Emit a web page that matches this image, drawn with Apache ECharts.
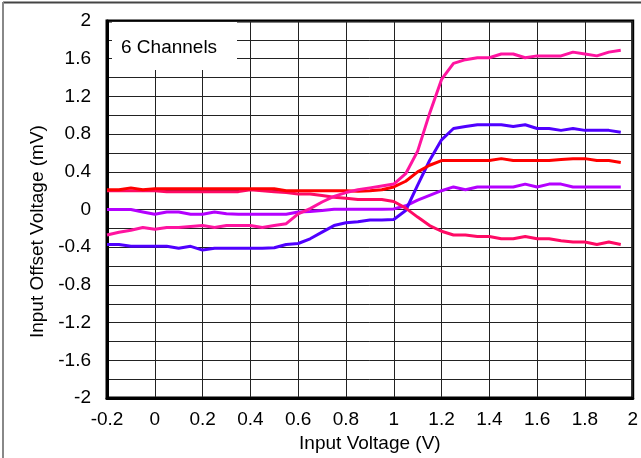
<!DOCTYPE html>
<html><head><meta charset="utf-8">
<script src="https://cdn.jsdelivr.net/npm/echarts@6/dist/echarts.min.js"></script>
<style>html,body{margin:0;padding:0;background:#fff}#c{width:641px;height:458px}</style>
</head><body><div id="c"></div>
<script>
const xValues = [-0.2,-0.15,-0.1,-0.05,0,0.05,0.1,0.15,0.2,0.25,0.3,0.35,0.4,0.45,0.5,0.55,0.6,0.65,0.7,0.75,0.8,0.85,0.9,0.95,1.0,1.05,1.1,1.15,1.2,1.25,1.3,1.35,1.4,1.45,1.5,1.55,1.6,1.65,1.7,1.75,1.8,1.85,1.9,1.95];
const pinkCh = [-0.27,-0.24,-0.22,-0.19,-0.21,-0.19,-0.19,-0.18,-0.17,-0.19,-0.17,-0.17,-0.17,-0.19,-0.17,-0.15,-0.045,0.01,0.08,0.14,0.18,0.21,0.23,0.25,0.27,0.38,0.62,1.02,1.38,1.55,1.59,1.61,1.61,1.65,1.65,1.61,1.63,1.63,1.63,1.67,1.65,1.63,1.67,1.69];
const blueCh = [-0.37,-0.37,-0.39,-0.39,-0.39,-0.39,-0.41,-0.39,-0.43,-0.41,-0.41,-0.41,-0.41,-0.41,-0.405,-0.37,-0.36,-0.31,-0.24,-0.17,-0.14,-0.13,-0.11,-0.11,-0.105,-0.01,0.26,0.52,0.74,0.86,0.88,0.90,0.90,0.90,0.88,0.90,0.86,0.86,0.84,0.86,0.84,0.84,0.84,0.82];
const purpleCh = [0,0,0,-0.025,-0.05,-0.027,-0.027,-0.05,-0.05,-0.027,-0.045,-0.05,-0.05,-0.05,-0.05,-0.05,-0.027,-0.02,-0.01,0.004,0.004,0.004,0.004,0.004,0.007,0.04,0.10,0.15,0.20,0.24,0.21,0.24,0.24,0.24,0.24,0.27,0.24,0.27,0.27,0.24,0.24,0.24,0.24,0.24];
const redCh = [0.21,0.21,0.23,0.21,0.22,0.22,0.22,0.22,0.22,0.22,0.22,0.22,0.22,0.22,0.22,0.2,0.2,0.2,0.2,0.2,0.2,0.195,0.2,0.21,0.24,0.30,0.40,0.47,0.52,0.52,0.52,0.52,0.52,0.54,0.52,0.52,0.52,0.52,0.53,0.54,0.54,0.52,0.52,0.50];
const crimsonCh = [0.2,0.2,0.2,0.2,0.2,0.19,0.19,0.19,0.19,0.19,0.19,0.19,0.21,0.2,0.19,0.18,0.166,0.166,0.15,0.13,0.12,0.106,0.106,0.106,0.085,0.015,-0.08,-0.17,-0.23,-0.27,-0.27,-0.285,-0.285,-0.31,-0.31,-0.285,-0.31,-0.31,-0.33,-0.345,-0.345,-0.37,-0.345,-0.37];
const seriesDefs = [
  {name:'Ch1', values: purpleCh, color:'#b400ff'},
  {name:'Ch2', values: blueCh, color:'#5000ff'},
  {name:'Ch3', values: crimsonCh, color:'#ff0a64'},
  {name:'Ch4', values: redCh, color:'#ff0000'},
  {name:'Ch5', values: pinkCh, color:'#ff14a0'}
];
const xTitle = 'Input Voltage (V)';
const yTitle = 'Input Offset Voltage (mV)';
const noteText = '6 Channels';

const FONT = '"Liberation Sans", Arial, sans-serif';
const chart = echarts.init(document.getElementById('c'), null, {renderer:'canvas'});
chart.setOption({
  animation:false,
  backgroundColor:'#fff',
  grid:{left:107, right:6, top:21, bottom:59, show:true, borderColor:'#000', borderWidth:3, backgroundColor:'transparent'},
  xAxis:{
    type:'value', min:-0.2, max:2, interval:0.2,
    name:xTitle, nameLocation:'middle', nameGap:33,
    nameTextStyle:{fontFamily:FONT, fontSize:19, color:'#000'},
    axisLine:{show:true, onZero:false, lineStyle:{color:'#000', width:3}},
    axisTick:{show:false},
    axisLabel:{fontFamily:FONT, fontSize:19, color:'#000', margin:12, showMinLabel:true, showMaxLabel:true},
    splitLine:{show:true, lineStyle:{color:'#222', width:1}}
  },
  yAxis:{
    type:'value', min:-2, max:2, interval:0.4,
    name:yTitle, nameLocation:'middle', nameGap:56,
    nameTextStyle:{fontFamily:FONT, fontSize:19, color:'#000', padding:[0,44,0,0]},
    axisLine:{show:true, onZero:false, lineStyle:{color:'#000', width:3}},
    axisTick:{show:false},
    axisLabel:{fontFamily:FONT, fontSize:19, color:'#000', margin:16},
    splitLine:{show:true, lineStyle:{color:'#222', width:1}},
    minorTick:{show:false, splitNumber:2},
    minorSplitLine:{show:true, lineStyle:{color:'#222', width:1}}
  },
  series: seriesDefs.map(s => ({
    type:'line', name:s.name, showSymbol:false, symbol:'none', smooth:false,
    lineStyle:{color:s.color, width:3}, itemStyle:{color:s.color},
    data: xValues.map((x,i) => [x, s.values[i]]),
    z:3
  })),
  graphic:[
    {type:'line', shape:{x1:3, y1:2.5, x2:641, y2:2.5}, style:{stroke:'#444', lineWidth:2}, z:1},
    {type:'line', shape:{x1:3, y1:2, x2:3, y2:458}, style:{stroke:'#888', lineWidth:2}, z:1},
    {type:'rect', shape:{x:112, y:22, width:125, height:48}, style:{fill:'#fff'}, z:10},
    {type:'text', left:121, top:38, style:{text:noteText, fontFamily:FONT, fontSize:19, fill:'#000'}, z:11}
  ]
});
</script></body></html>
